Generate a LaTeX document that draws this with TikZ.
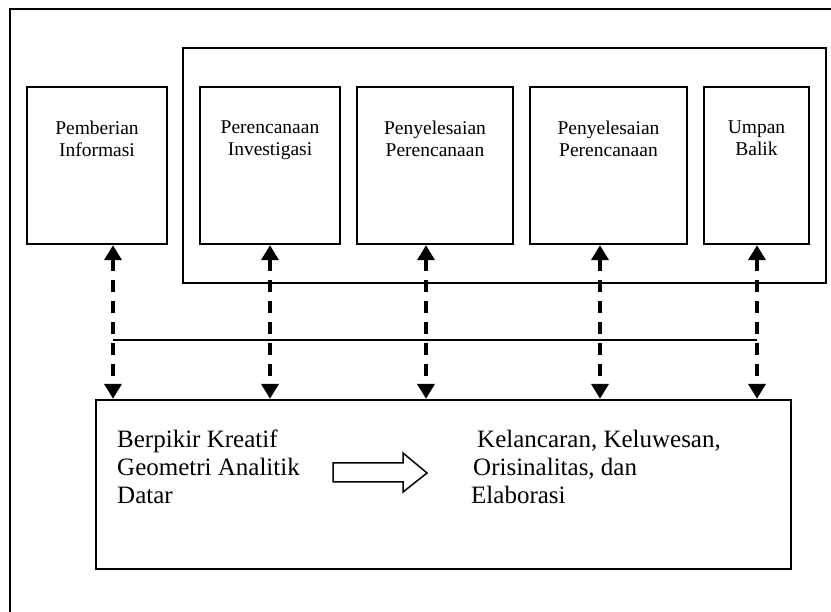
\documentclass[tikz,border=0pt]{standalone}
\usepackage{fontspec}
\setmainfont{Liberation Serif}
\usetikzlibrary{arrows.meta}
\begin{document}
\begin{tikzpicture}[x=1pt,y=-1pt,
  box/.style={draw,line width=2.4pt,minimum height=157pt,inner sep=0pt},
  frm/.style={draw,line width=2.4pt,inner sep=0pt},
  toptxt/.style={anchor=north,inner sep=0pt,align=center,font=\fontsize{19.5}{22}\selectfont},
  bigtxt/.style={anchor=north west,inner sep=0pt,align=left,font=\fontsize{25}{28}\selectfont},
  link/.style={line width=4pt,dash pattern=on 12pt off 9pt,{Triangle[width=17pt,length=15pt]}-{Triangle[width=17pt,length=15pt]}},
  hline/.style={line width=2pt},
  blockarrow/.style={draw,line width=1.5pt,fill=white,line join=miter}
]
\clip (0,0) rectangle (831,612);
\draw[line width=2.4pt] (10,640) -- (10,9) -- (860,9);
% inner frame
\node[frm, minimum width=643pt, minimum height=235pt] (inner) at (504.5,165.5) {};
% stage boxes
\node[box, minimum width=140pt] (b1) at (97,165.5) {};
\node[box, minimum width=140pt] (b2) at (270,165.5) {};
\node[box, minimum width=156pt] (b3) at (435,165.5) {};
\node[box, minimum width=157pt] (b4) at (608.5,165.5) {};
\node[box, minimum width=105pt] (b5) at (756.5,165.5) {};
\node[toptxt] (t1) at (97,121) {Pemberian\\Informasi};
\node[toptxt] (t2) at (270,121) {Perencanaan\\Investigasi};
\node[toptxt] (t3) at (435,121) {Penyelesaian\\Perencanaan};
\node[toptxt] (t4) at (608.5,121) {Penyelesaian\\Perencanaan};
\node[toptxt] (t5) at (756.5,121) {Umpan\\Balik};
% bottom box
\node[frm, minimum width=695pt, minimum height=169pt] (bot) at (443.5,484.5) {};
% connector columns
\coordinate (a1) at (113,340);
\coordinate (a2) at (270,340);
\coordinate (a3) at (426,340);
\coordinate (a4) at (600,340);
\coordinate (a5) at (757,340);
\draw[hline] (a1) -- (a5);
\draw[link] (b1.south -| a1) -- (bot.north -| a1);
\draw[link] (b2.south -| a2) -- (bot.north -| a2);
\draw[link] (b3.south -| a3) -- (bot.north -| a3);
\draw[link] (b4.south -| a4) -- (bot.north -| a4);
\draw[link] (b5.south -| a5) -- (bot.north -| a5);
% texts in bottom box
\node[bigtxt] (l1) at (117,430) {Berpikir Kreatif\\Geometri Analitik\\Datar};
\node[bigtxt] (l2) at (471,430) {\hspace*{6pt}Kelancaran, Keluwesan,\\\hspace*{2pt}Orisinalitas, dan\\Elaborasi};
% hollow block arrow
\draw[blockarrow] (333,463) -- (403,463) -- (403,453) -- (427,473) -- (403,492) -- (403,482) -- (333,482) -- cycle;
\end{tikzpicture}
\end{document}
